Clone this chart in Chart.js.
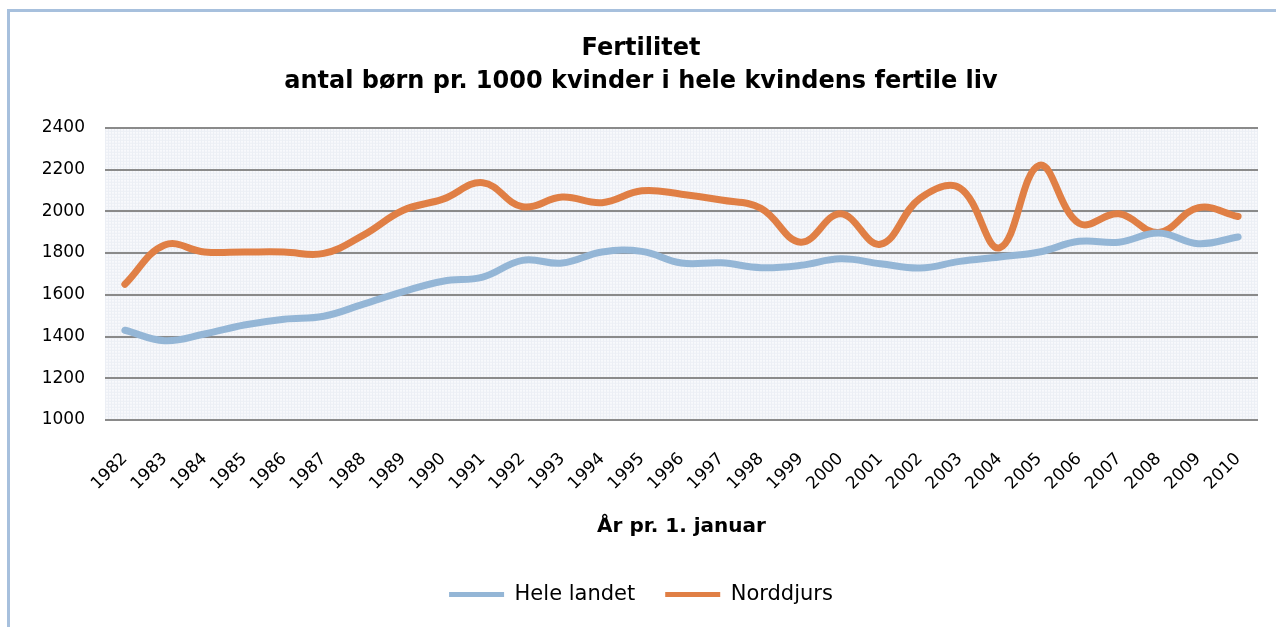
<!DOCTYPE html>
<html>
<head>
<meta charset="utf-8">
<script src="https://cdn.jsdelivr.net/npm/chart.js@4"></script>
<style>
  html, body { margin: 0; padding: 0; background: #fff; overflow: hidden; }
  #frame {
    position: absolute; left: 7px; top: 9px;
    width: 1320px; height: 660px;
    border: 3px solid #a7c0dd;
  }
  #wrap { position: absolute; left: 0; top: 0; width: 1276px; height: 627px; }
</style>
</head>
<body>
<div id="frame"></div>
<div id="wrap"><canvas id="chart"></canvas></div>
<script>
// Data
const years = ["1982","1983","1984","1985","1986","1987","1988","1989","1990","1991",
  "1992","1993","1994","1995","1996","1997","1998","1999","2000","2001",
  "2002","2003","2004","2005","2006","2007","2008","2009","2010"];
const heleLandet = [1430, 1380, 1412, 1455, 1483, 1497, 1555, 1615, 1665, 1685,
  1765, 1752, 1805, 1808, 1752, 1753, 1730, 1741, 1772, 1749,
  1728, 1760, 1781, 1805, 1856, 1852, 1896, 1845, 1877];
const norddjurs = [1650, 1838, 1805, 1805, 1805, 1798, 1886, 2005, 2058, 2137,
  2022, 2068, 2041, 2098, 2082, 2054, 2014, 1852, 1988, 1842,
  2062, 2112, 1825, 2220, 1942, 1988, 1898, 2017, 1975];
const yTicks = [1000, 1200, 1400, 1600, 1800, 2000, 2200, 2400];

const font = "'DejaVu Sans', Verdana, sans-serif";

// fine grid paper behind the plot
const paperBg = {
  id: "paperBg",
  beforeDraw(chart) {
    const { ctx, chartArea: a } = chart;
    ctx.save();
    ctx.fillStyle = "#f8f9fc";
    ctx.fillRect(a.left, a.top, a.right - a.left, a.bottom - a.top);
    ctx.strokeStyle = "#eceff5";
    ctx.lineWidth = 1;
    ctx.beginPath();
    for (let x = a.left + 0.5; x < a.right; x += 3) {
      ctx.moveTo(x, a.top); ctx.lineTo(x, a.bottom);
    }
    for (let y = a.top + 0.5; y < a.bottom; y += 3) {
      ctx.moveTo(a.left, y); ctx.lineTo(a.right, y);
    }
    ctx.stroke();
    ctx.restore();
  }
};

new Chart(document.getElementById("chart"), {
  type: "line",
  data: {
    labels: years,
    datasets: [
      {
        label: "Hele landet",
        data: heleLandet,
        borderColor: "#94b6d6",
        backgroundColor: "#94b6d6",
        borderWidth: 7,
        borderCapStyle: "round",
        pointRadius: 0,
        tension: 0.4
      },
      {
        label: "Norddjurs",
        data: norddjurs,
        borderColor: "#e07f45",
        backgroundColor: "#e07f45",
        borderWidth: 7,
        borderCapStyle: "round",
        pointRadius: 0,
        tension: 0.4
      }
    ]
  },
  options: {
    responsive: true,
    maintainAspectRatio: false,
    animation: false,
    layout: { padding: { left: 24, right: 18, top: 33, bottom: 12 } },
    plugins: {
      title: {
        display: true,
        text: ["Fertilitet", "antal børn pr. 1000 kvinder i hele kvindens fertile liv"],
        color: "#000",
        font: { family: font, size: 24, weight: "bold", lineHeight: 1.35 },
        padding: { top: 0, bottom: 30 }
      },
      legend: {
        position: "bottom",
        labels: {
          color: "#000",
          font: { family: font, size: 21 },
          usePointStyle: true,
          pointStyle: "line",
          pointStyleWidth: 55,
          padding: 30,
          generateLabels(chart) {
            // thinner legend strokes than the plotted lines
            return Chart.defaults.plugins.legend.labels.generateLabels(chart)
              .map(l => ({ ...l, lineWidth: 5 }));
          }
        }
      },
      tooltip: { enabled: false }
    },
    scales: {
      x: {
        offset: true,
        grid: { display: false },
        border: { display: false },
        ticks: {
          color: "#000",
          font: { family: font, size: 17 },
          maxRotation: 45,
          minRotation: 45,
          padding: 21
        },
        title: {
          display: true,
          text: "År pr. 1. januar",
          color: "#000",
          font: { family: font, size: 20, weight: "bold" },
          padding: { top: 0, bottom: 15 }
        }
      },
      y: {
        min: 1000,
        max: 2400,
        afterBuildTicks(scale) {
          scale.ticks = yTicks.map(v => ({ value: v }));
        },
        afterFit(scale) {
          scale.width = 81;
        },
        grid: { color: "#8a8a8a", lineWidth: 2, drawTicks: false },
        border: { display: false },
        ticks: {
          color: "#000",
          font: { family: font, size: 17 },
          padding: 20,
          callback: v => String(v)
        }
      }
    }
  },
  plugins: [paperBg]
});
</script>
</body>
</html>
